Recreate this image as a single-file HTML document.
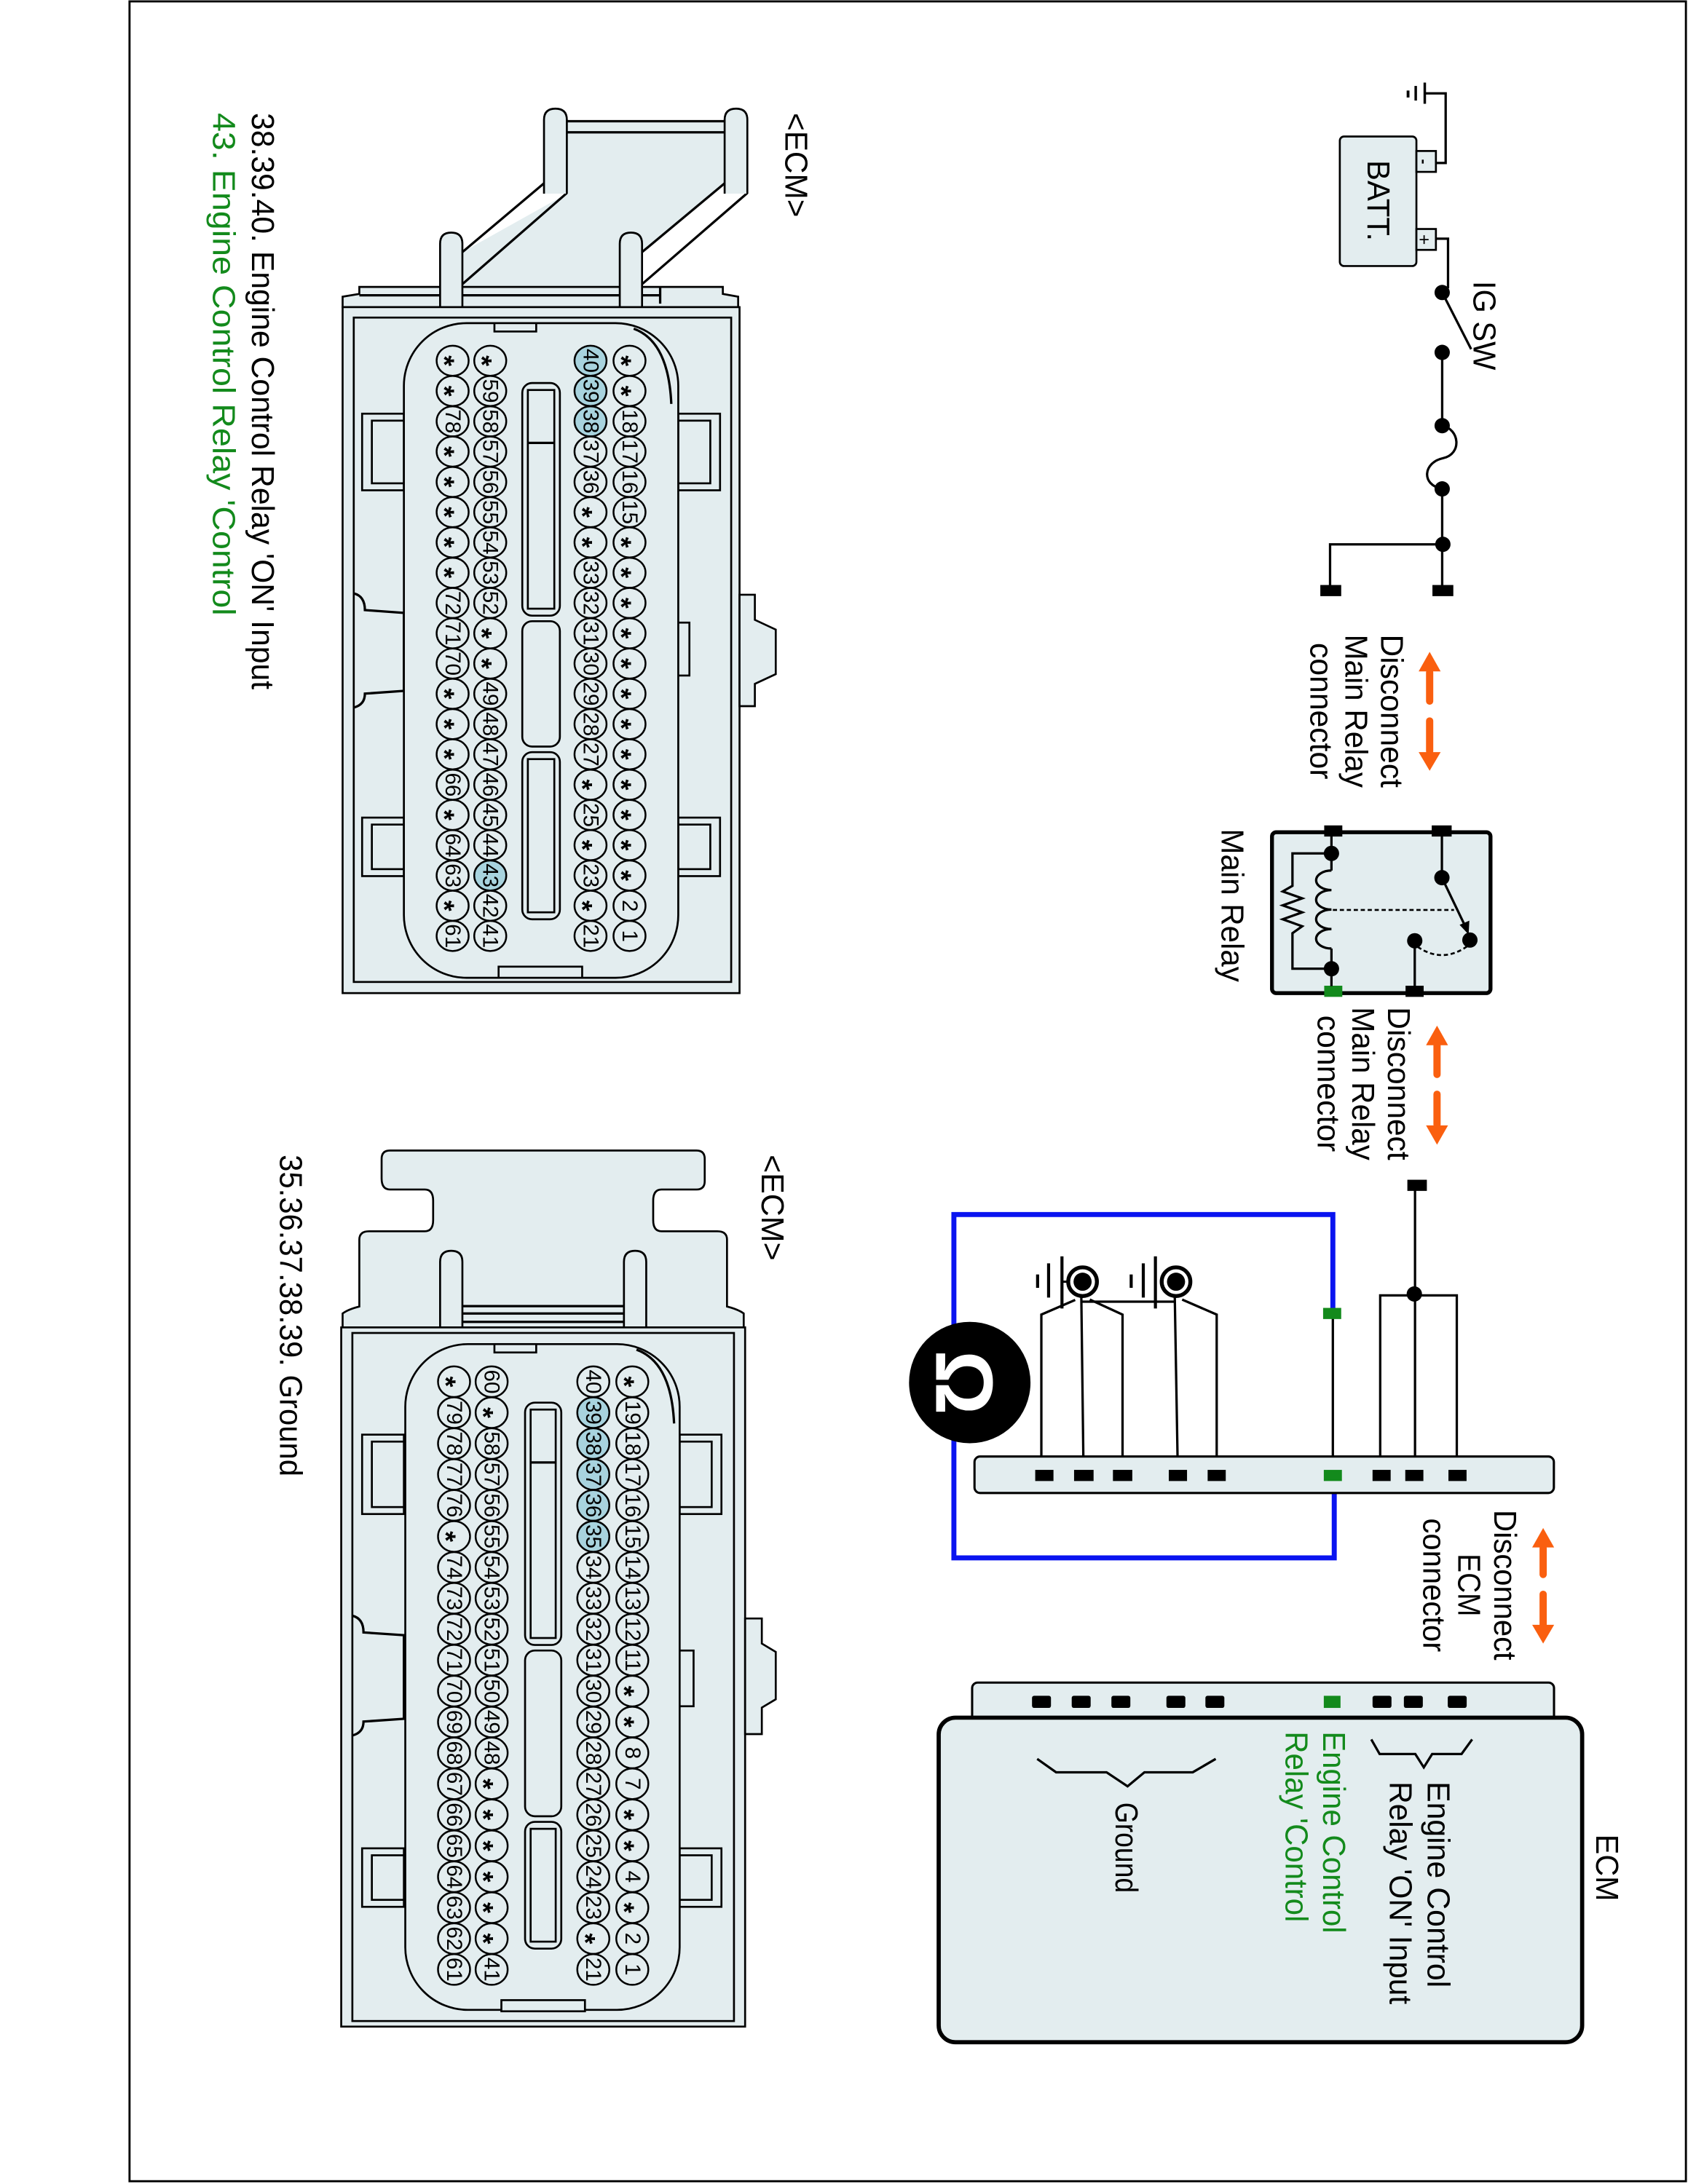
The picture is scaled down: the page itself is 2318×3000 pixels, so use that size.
<!DOCTYPE html>
<html><head><meta charset="utf-8"><style>
html,body{margin:0;padding:0;background:#fff}
svg{display:block}
text{font-family:"Liberation Sans",Arial,sans-serif}
.l{font-size:23px;fill:#000}
.g{fill:#138a1c}
.pc{fill:#e3edef;stroke:#000;stroke-width:1.3}
.ph{fill:#a8d3de;stroke:#000;stroke-width:1.3}
.pt{font-size:15.5px;text-anchor:middle;dominant-baseline:central}
.as{font-size:20px;text-anchor:middle;dominant-baseline:central;font-weight:bold}
.b{fill:#e3edef;stroke:#000;stroke-width:1.4}
.w{fill:none;stroke:#000;stroke-width:1.7}
.blk{fill:#000}
</style></head><body>
<svg width="2318" height="3000" viewBox="0 0 1212 1568" preserveAspectRatio="none" xmlns="http://www.w3.org/2000/svg">
<rect x="0" y="0" width="1212" height="1568" fill="#fff"/>
<rect x="93" y="1" width="1117.5" height="1565" fill="none" stroke="#000" stroke-width="1.5"/>

<text class="l" transform="translate(181,81) rotate(90)" textLength="414" lengthAdjust="spacingAndGlyphs">38.39.40. Engine Control Relay 'ON' Input</text>
<text class="l g" transform="translate(153,81) rotate(90)" textLength="361" lengthAdjust="spacingAndGlyphs">43. Engine Control Relay 'Control</text>
<text class="l" transform="translate(564,81) rotate(90)" textLength="75" lengthAdjust="spacingAndGlyphs">&lt;ECM&gt;</text>
<text class="l" transform="translate(547,829) rotate(90)" textLength="76" lengthAdjust="spacingAndGlyphs">&lt;ECM&gt;</text>
<text class="l" transform="translate(201,829) rotate(90)" textLength="231" lengthAdjust="spacingAndGlyphs">35.36.37.38.39. Ground</text>

<!-- connector 1 housing -->
<polygon points="407,87 520,87 520,132 461,181 461,206 332,206 332,181 407,139" fill="#e3edef"/>
<line class="w" x1="407" y1="87" x2="520" y2="87"/>
<line class="w" x1="407" y1="95" x2="520" y2="95"/>
<line class="w" x1="390.6" y1="131.6" x2="332" y2="181"/>
<line class="w" x1="407" y1="138.6" x2="332" y2="204"/>
<line class="w" x1="520.3" y1="131.6" x2="461" y2="181"/>
<line class="w" x1="536.6" y1="138.6" x2="461" y2="204"/>
<path class="b" d="M390.6,139 L390.6,86 Q390.6,78 398.8,78 Q407,78 407,86 L407,139"/>
<path class="b" d="M520.3,139 L520.3,86 Q520.3,78 528.5,78 Q536.6,78 536.6,86 L536.6,139"/>
<path class="b" d="M246,220.5 L246,213 L258,211 L258,206 L519,206 L519,211 L530,213 L530,220.5 Z"/>
<line class="w" x1="258" y1="212" x2="474" y2="212"/>
<line class="w" x1="474" y1="206" x2="474" y2="218"/>
<path class="b" d="M316,220 L316,175 Q316,167 324,167 Q332,167 332,175 L332,220"/>
<path class="b" d="M445,220 L445,175 Q445,167 453,167 Q461,167 461,175 L461,220"/>
<rect class="b" x="246" y="220.5" width="285" height="492.5"/>
<rect class="b" x="254" y="228" width="271" height="477"/>
<path class="b" d="M531,427 L542,427 L542,445 L557,452 L557,484 L542,491 L542,507 L531,507 Z"/>
<rect class="b" x="481" y="447" width="14" height="38"/>
<rect class="b" x="260" y="297" width="30" height="55"/>
<rect class="b" x="267" y="302" width="23" height="45"/>
<rect class="b" x="260" y="587" width="30" height="42"/>
<rect class="b" x="267" y="592" width="23" height="32"/>
<rect class="b" x="487" y="297" width="30" height="55"/>
<rect class="b" x="487" y="302" width="23" height="45"/>
<rect class="b" x="487" y="587" width="30" height="42"/>
<rect class="b" x="487" y="592" width="23" height="32"/>
<path class="w" d="M254,426 Q262,428 262,438 L290,440 L290,496 L262,498 Q262,506 254,508"/>
<rect class="b" x="290" y="232" width="197" height="470" rx="45" ry="45"/>
<path class="w" d="M455,236 Q480,245 482,290"/>
<rect class="b" x="358" y="694" width="60" height="8"/>
<rect class="b" x="355" y="232" width="30" height="6"/>
<rect class="b" x="375" y="275" width="27" height="167" rx="7"/>
<rect class="b" x="379" y="280" width="19" height="157"/>
<line class="w" x1="379" y1="318" x2="398" y2="318"/>
<rect class="b" x="375" y="446" width="27" height="90" rx="7"/>
<rect class="b" x="375" y="540" width="27" height="120" rx="7"/>
<rect class="b" x="379" y="545" width="19" height="110"/>

<!-- conn1 col A -->
<g>
<ellipse class="pc" cx="452" cy="259" rx="11.5" ry="10.8"/><text class="as" dy="0.3em" transform="translate(452,259) rotate(90)">*</text>
<ellipse class="pc" cx="452" cy="280.7" rx="11.5" ry="10.8"/><text class="as" dy="0.3em" transform="translate(452,280.7) rotate(90)">*</text>
<ellipse class="pc" cx="452" cy="302.5" rx="11.5" ry="10.8"/><text class="pt" transform="translate(452,302.5) rotate(90)">18</text>
<ellipse class="pc" cx="452" cy="324.2" rx="11.5" ry="10.8"/><text class="pt" transform="translate(452,324.2) rotate(90)">17</text>
<ellipse class="pc" cx="452" cy="346" rx="11.5" ry="10.8"/><text class="pt" transform="translate(452,346) rotate(90)">16</text>
<ellipse class="pc" cx="452" cy="367.7" rx="11.5" ry="10.8"/><text class="pt" transform="translate(452,367.7) rotate(90)">15</text>
<ellipse class="pc" cx="452" cy="389.4" rx="11.5" ry="10.8"/><text class="as" dy="0.3em" transform="translate(452,389.4) rotate(90)">*</text>
<ellipse class="pc" cx="452" cy="411.2" rx="11.5" ry="10.8"/><text class="as" dy="0.3em" transform="translate(452,411.2) rotate(90)">*</text>
<ellipse class="pc" cx="452" cy="432.9" rx="11.5" ry="10.8"/><text class="as" dy="0.3em" transform="translate(452,432.9) rotate(90)">*</text>
<ellipse class="pc" cx="452" cy="454.7" rx="11.5" ry="10.8"/><text class="as" dy="0.3em" transform="translate(452,454.7) rotate(90)">*</text>
<ellipse class="pc" cx="452" cy="476.4" rx="11.5" ry="10.8"/><text class="as" dy="0.3em" transform="translate(452,476.4) rotate(90)">*</text>
<ellipse class="pc" cx="452" cy="498.1" rx="11.5" ry="10.8"/><text class="as" dy="0.3em" transform="translate(452,498.1) rotate(90)">*</text>
<ellipse class="pc" cx="452" cy="519.9" rx="11.5" ry="10.8"/><text class="as" dy="0.3em" transform="translate(452,519.9) rotate(90)">*</text>
<ellipse class="pc" cx="452" cy="541.6" rx="11.5" ry="10.8"/><text class="as" dy="0.3em" transform="translate(452,541.6) rotate(90)">*</text>
<ellipse class="pc" cx="452" cy="563.4" rx="11.5" ry="10.8"/><text class="as" dy="0.3em" transform="translate(452,563.4) rotate(90)">*</text>
<ellipse class="pc" cx="452" cy="585.1" rx="11.5" ry="10.8"/><text class="as" dy="0.3em" transform="translate(452,585.1) rotate(90)">*</text>
<ellipse class="pc" cx="452" cy="606.8" rx="11.5" ry="10.8"/><text class="as" dy="0.3em" transform="translate(452,606.8) rotate(90)">*</text>
<ellipse class="pc" cx="452" cy="628.6" rx="11.5" ry="10.8"/><text class="as" dy="0.3em" transform="translate(452,628.6) rotate(90)">*</text>
<ellipse class="pc" cx="452" cy="650.3" rx="11.5" ry="10.8"/><text class="pt" transform="translate(452,650.3) rotate(90)">2</text>
<ellipse class="pc" cx="452" cy="672" rx="11.5" ry="10.8"/><text class="pt" transform="translate(452,672) rotate(90)">1</text>
</g>
<g>
<ellipse class="ph" cx="424" cy="259" rx="11.5" ry="10.8"/><text class="pt" transform="translate(424,259) rotate(90)">40</text>
<ellipse class="ph" cx="424" cy="280.7" rx="11.5" ry="10.8"/><text class="pt" transform="translate(424,280.7) rotate(90)">39</text>
<ellipse class="ph" cx="424" cy="302.5" rx="11.5" ry="10.8"/><text class="pt" transform="translate(424,302.5) rotate(90)">38</text>
<ellipse class="pc" cx="424" cy="324.2" rx="11.5" ry="10.8"/><text class="pt" transform="translate(424,324.2) rotate(90)">37</text>
<ellipse class="pc" cx="424" cy="346" rx="11.5" ry="10.8"/><text class="pt" transform="translate(424,346) rotate(90)">36</text>
<ellipse class="pc" cx="424" cy="367.7" rx="11.5" ry="10.8"/><text class="as" dy="0.3em" transform="translate(424,367.7) rotate(90)">*</text>
<ellipse class="pc" cx="424" cy="389.4" rx="11.5" ry="10.8"/><text class="as" dy="0.3em" transform="translate(424,389.4) rotate(90)">*</text>
<ellipse class="pc" cx="424" cy="411.2" rx="11.5" ry="10.8"/><text class="pt" transform="translate(424,411.2) rotate(90)">33</text>
<ellipse class="pc" cx="424" cy="432.9" rx="11.5" ry="10.8"/><text class="pt" transform="translate(424,432.9) rotate(90)">32</text>
<ellipse class="pc" cx="424" cy="454.7" rx="11.5" ry="10.8"/><text class="pt" transform="translate(424,454.7) rotate(90)">31</text>
<ellipse class="pc" cx="424" cy="476.4" rx="11.5" ry="10.8"/><text class="pt" transform="translate(424,476.4) rotate(90)">30</text>
<ellipse class="pc" cx="424" cy="498.1" rx="11.5" ry="10.8"/><text class="pt" transform="translate(424,498.1) rotate(90)">29</text>
<ellipse class="pc" cx="424" cy="519.9" rx="11.5" ry="10.8"/><text class="pt" transform="translate(424,519.9) rotate(90)">28</text>
<ellipse class="pc" cx="424" cy="541.6" rx="11.5" ry="10.8"/><text class="pt" transform="translate(424,541.6) rotate(90)">27</text>
<ellipse class="pc" cx="424" cy="563.4" rx="11.5" ry="10.8"/><text class="as" dy="0.3em" transform="translate(424,563.4) rotate(90)">*</text>
<ellipse class="pc" cx="424" cy="585.1" rx="11.5" ry="10.8"/><text class="pt" transform="translate(424,585.1) rotate(90)">25</text>
<ellipse class="pc" cx="424" cy="606.8" rx="11.5" ry="10.8"/><text class="as" dy="0.3em" transform="translate(424,606.8) rotate(90)">*</text>
<ellipse class="pc" cx="424" cy="628.6" rx="11.5" ry="10.8"/><text class="pt" transform="translate(424,628.6) rotate(90)">23</text>
<ellipse class="pc" cx="424" cy="650.3" rx="11.5" ry="10.8"/><text class="as" dy="0.3em" transform="translate(424,650.3) rotate(90)">*</text>
<ellipse class="pc" cx="424" cy="672" rx="11.5" ry="10.8"/><text class="pt" transform="translate(424,672) rotate(90)">21</text>
</g>
<g>
<ellipse class="pc" cx="352" cy="259" rx="11.5" ry="10.8"/><text class="as" dy="0.3em" transform="translate(352,259) rotate(90)">*</text>
<ellipse class="pc" cx="352" cy="280.7" rx="11.5" ry="10.8"/><text class="pt" transform="translate(352,280.7) rotate(90)">59</text>
<ellipse class="pc" cx="352" cy="302.5" rx="11.5" ry="10.8"/><text class="pt" transform="translate(352,302.5) rotate(90)">58</text>
<ellipse class="pc" cx="352" cy="324.2" rx="11.5" ry="10.8"/><text class="pt" transform="translate(352,324.2) rotate(90)">57</text>
<ellipse class="pc" cx="352" cy="346" rx="11.5" ry="10.8"/><text class="pt" transform="translate(352,346) rotate(90)">56</text>
<ellipse class="pc" cx="352" cy="367.7" rx="11.5" ry="10.8"/><text class="pt" transform="translate(352,367.7) rotate(90)">55</text>
<ellipse class="pc" cx="352" cy="389.4" rx="11.5" ry="10.8"/><text class="pt" transform="translate(352,389.4) rotate(90)">54</text>
<ellipse class="pc" cx="352" cy="411.2" rx="11.5" ry="10.8"/><text class="pt" transform="translate(352,411.2) rotate(90)">53</text>
<ellipse class="pc" cx="352" cy="432.9" rx="11.5" ry="10.8"/><text class="pt" transform="translate(352,432.9) rotate(90)">52</text>
<ellipse class="pc" cx="352" cy="454.7" rx="11.5" ry="10.8"/><text class="as" dy="0.3em" transform="translate(352,454.7) rotate(90)">*</text>
<ellipse class="pc" cx="352" cy="476.4" rx="11.5" ry="10.8"/><text class="as" dy="0.3em" transform="translate(352,476.4) rotate(90)">*</text>
<ellipse class="pc" cx="352" cy="498.1" rx="11.5" ry="10.8"/><text class="pt" transform="translate(352,498.1) rotate(90)">49</text>
<ellipse class="pc" cx="352" cy="519.9" rx="11.5" ry="10.8"/><text class="pt" transform="translate(352,519.9) rotate(90)">48</text>
<ellipse class="pc" cx="352" cy="541.6" rx="11.5" ry="10.8"/><text class="pt" transform="translate(352,541.6) rotate(90)">47</text>
<ellipse class="pc" cx="352" cy="563.4" rx="11.5" ry="10.8"/><text class="pt" transform="translate(352,563.4) rotate(90)">46</text>
<ellipse class="pc" cx="352" cy="585.1" rx="11.5" ry="10.8"/><text class="pt" transform="translate(352,585.1) rotate(90)">45</text>
<ellipse class="pc" cx="352" cy="606.8" rx="11.5" ry="10.8"/><text class="pt" transform="translate(352,606.8) rotate(90)">44</text>
<ellipse class="ph" cx="352" cy="628.6" rx="11.5" ry="10.8"/><text class="pt" transform="translate(352,628.6) rotate(90)">43</text>
<ellipse class="pc" cx="352" cy="650.3" rx="11.5" ry="10.8"/><text class="pt" transform="translate(352,650.3) rotate(90)">42</text>
<ellipse class="pc" cx="352" cy="672" rx="11.5" ry="10.8"/><text class="pt" transform="translate(352,672) rotate(90)">41</text>
</g>
<g>
<ellipse class="pc" cx="325" cy="259" rx="11.5" ry="10.8"/><text class="as" dy="0.3em" transform="translate(325,259) rotate(90)">*</text>
<ellipse class="pc" cx="325" cy="280.7" rx="11.5" ry="10.8"/><text class="as" dy="0.3em" transform="translate(325,280.7) rotate(90)">*</text>
<ellipse class="pc" cx="325" cy="302.5" rx="11.5" ry="10.8"/><text class="pt" transform="translate(325,302.5) rotate(90)">78</text>
<ellipse class="pc" cx="325" cy="324.2" rx="11.5" ry="10.8"/><text class="as" dy="0.3em" transform="translate(325,324.2) rotate(90)">*</text>
<ellipse class="pc" cx="325" cy="346" rx="11.5" ry="10.8"/><text class="as" dy="0.3em" transform="translate(325,346) rotate(90)">*</text>
<ellipse class="pc" cx="325" cy="367.7" rx="11.5" ry="10.8"/><text class="as" dy="0.3em" transform="translate(325,367.7) rotate(90)">*</text>
<ellipse class="pc" cx="325" cy="389.4" rx="11.5" ry="10.8"/><text class="as" dy="0.3em" transform="translate(325,389.4) rotate(90)">*</text>
<ellipse class="pc" cx="325" cy="411.2" rx="11.5" ry="10.8"/><text class="as" dy="0.3em" transform="translate(325,411.2) rotate(90)">*</text>
<ellipse class="pc" cx="325" cy="432.9" rx="11.5" ry="10.8"/><text class="pt" transform="translate(325,432.9) rotate(90)">72</text>
<ellipse class="pc" cx="325" cy="454.7" rx="11.5" ry="10.8"/><text class="pt" transform="translate(325,454.7) rotate(90)">71</text>
<ellipse class="pc" cx="325" cy="476.4" rx="11.5" ry="10.8"/><text class="pt" transform="translate(325,476.4) rotate(90)">70</text>
<ellipse class="pc" cx="325" cy="498.1" rx="11.5" ry="10.8"/><text class="as" dy="0.3em" transform="translate(325,498.1) rotate(90)">*</text>
<ellipse class="pc" cx="325" cy="519.9" rx="11.5" ry="10.8"/><text class="as" dy="0.3em" transform="translate(325,519.9) rotate(90)">*</text>
<ellipse class="pc" cx="325" cy="541.6" rx="11.5" ry="10.8"/><text class="as" dy="0.3em" transform="translate(325,541.6) rotate(90)">*</text>
<ellipse class="pc" cx="325" cy="563.4" rx="11.5" ry="10.8"/><text class="pt" transform="translate(325,563.4) rotate(90)">66</text>
<ellipse class="pc" cx="325" cy="585.1" rx="11.5" ry="10.8"/><text class="as" dy="0.3em" transform="translate(325,585.1) rotate(90)">*</text>
<ellipse class="pc" cx="325" cy="606.8" rx="11.5" ry="10.8"/><text class="pt" transform="translate(325,606.8) rotate(90)">64</text>
<ellipse class="pc" cx="325" cy="628.6" rx="11.5" ry="10.8"/><text class="pt" transform="translate(325,628.6) rotate(90)">63</text>
<ellipse class="pc" cx="325" cy="650.3" rx="11.5" ry="10.8"/><text class="as" dy="0.3em" transform="translate(325,650.3) rotate(90)">*</text>
<ellipse class="pc" cx="325" cy="672" rx="11.5" ry="10.8"/><text class="pt" transform="translate(325,672) rotate(90)">61</text>
</g>

<!-- connector 2 housing -->
<path class="b" d="M246,953 L246,943 Q250,940 258,938 L258,890 Q258,884 265,884 L305,884 Q311,884 311,876 L311,862 Q311,854 305,854 L280,854 Q274,854 274,846 L274,832 Q274,826 280,826 L500,826 Q506,826 506,832 L506,848 Q506,854 500,854 L475,854 Q469,854 469,862 L469,876 Q469,884 475,884 L515,884 Q522,884 522,890 L522,938 Q530,940 534,943 L534,953 Z"/>
<line class="w" x1="332" y1="937.7" x2="448" y2="937.7"/>
<line class="w" x1="332" y1="943" x2="448" y2="943"/>
<line class="w" x1="332" y1="949" x2="448" y2="949"/>
<path class="b" d="M316,953 L316,906 Q316,898 324,898 Q332,898 332,906 L332,953"/>
<path class="b" d="M448,953 L448,906 Q448,898 456,898 Q464,898 464,906 L464,953"/>
<rect class="b" x="245" y="953" width="290" height="502"/>
<rect class="b" x="253" y="957" width="274" height="494"/>
<path class="b" d="M535,1162 L547,1162 L547,1180 L557,1186 L557,1220 L547,1226 L547,1245 L535,1245 Z"/>
<rect class="b" x="484" y="1185" width="14" height="40"/>
<rect class="b" x="260" y="1030" width="30" height="57"/>
<rect class="b" x="267" y="1035" width="23" height="47"/>
<rect class="b" x="260" y="1327" width="30" height="42"/>
<rect class="b" x="267" y="1332" width="23" height="32"/>
<rect class="b" x="488" y="1030" width="30" height="57"/>
<rect class="b" x="488" y="1035" width="23" height="47"/>
<rect class="b" x="488" y="1327" width="30" height="42"/>
<rect class="b" x="488" y="1332" width="23" height="32"/>
<path class="w" d="M253,1160 Q261,1162 261,1172 L290,1174 L290,1234 L261,1236 Q261,1244 253,1246"/>
<rect class="b" x="291" y="965" width="197" height="478" rx="45" ry="45"/>
<path class="w" d="M457,969 Q482,978 484,1022"/>
<rect class="b" x="360" y="1436" width="60" height="8"/>
<rect class="b" x="355" y="965" width="30" height="6"/>
<rect class="b" x="377" y="1007" width="26" height="174" rx="7"/>
<rect class="b" x="381" y="1012" width="18" height="164"/>
<line class="w" x1="381" y1="1050" x2="399" y2="1050"/>
<rect class="b" x="377" y="1185" width="26" height="119" rx="7"/>
<rect class="b" x="377" y="1308" width="26" height="91" rx="7"/>
<rect class="b" x="381" y="1313" width="18" height="81"/>

<g>
<ellipse class="pc" cx="454" cy="992" rx="11.5" ry="11"/><text class="as" dy="0.3em" transform="translate(454,992) rotate(90)">*</text>
<ellipse class="pc" cx="454" cy="1014.2" rx="11.5" ry="11"/><text class="pt" transform="translate(454,1014.2) rotate(90)">19</text>
<ellipse class="pc" cx="454" cy="1036.4" rx="11.5" ry="11"/><text class="pt" transform="translate(454,1036.4) rotate(90)">18</text>
<ellipse class="pc" cx="454" cy="1058.6" rx="11.5" ry="11"/><text class="pt" transform="translate(454,1058.6) rotate(90)">17</text>
<ellipse class="pc" cx="454" cy="1080.8" rx="11.5" ry="11"/><text class="pt" transform="translate(454,1080.8) rotate(90)">16</text>
<ellipse class="pc" cx="454" cy="1103.1" rx="11.5" ry="11"/><text class="pt" transform="translate(454,1103.1) rotate(90)">15</text>
<ellipse class="pc" cx="454" cy="1125.3" rx="11.5" ry="11"/><text class="pt" transform="translate(454,1125.3) rotate(90)">14</text>
<ellipse class="pc" cx="454" cy="1147.5" rx="11.5" ry="11"/><text class="pt" transform="translate(454,1147.5) rotate(90)">13</text>
<ellipse class="pc" cx="454" cy="1169.7" rx="11.5" ry="11"/><text class="pt" transform="translate(454,1169.7) rotate(90)">12</text>
<ellipse class="pc" cx="454" cy="1191.9" rx="11.5" ry="11"/><text class="pt" transform="translate(454,1191.9) rotate(90)">11</text>
<ellipse class="pc" cx="454" cy="1214.1" rx="11.5" ry="11"/><text class="as" dy="0.3em" transform="translate(454,1214.1) rotate(90)">*</text>
<ellipse class="pc" cx="454" cy="1236.3" rx="11.5" ry="11"/><text class="as" dy="0.3em" transform="translate(454,1236.3) rotate(90)">*</text>
<ellipse class="pc" cx="454" cy="1258.5" rx="11.5" ry="11"/><text class="pt" transform="translate(454,1258.5) rotate(90)">8</text>
<ellipse class="pc" cx="454" cy="1280.7" rx="11.5" ry="11"/><text class="pt" transform="translate(454,1280.7) rotate(90)">7</text>
<ellipse class="pc" cx="454" cy="1302.9" rx="11.5" ry="11"/><text class="as" dy="0.3em" transform="translate(454,1302.9) rotate(90)">*</text>
<ellipse class="pc" cx="454" cy="1325.2" rx="11.5" ry="11"/><text class="as" dy="0.3em" transform="translate(454,1325.2) rotate(90)">*</text>
<ellipse class="pc" cx="454" cy="1347.4" rx="11.5" ry="11"/><text class="pt" transform="translate(454,1347.4) rotate(90)">4</text>
<ellipse class="pc" cx="454" cy="1369.6" rx="11.5" ry="11"/><text class="as" dy="0.3em" transform="translate(454,1369.6) rotate(90)">*</text>
<ellipse class="pc" cx="454" cy="1391.8" rx="11.5" ry="11"/><text class="pt" transform="translate(454,1391.8) rotate(90)">2</text>
<ellipse class="pc" cx="454" cy="1414" rx="11.5" ry="11"/><text class="pt" transform="translate(454,1414) rotate(90)">1</text>
</g>
<g>
<ellipse class="pc" cx="426" cy="992" rx="11.5" ry="11"/><text class="pt" transform="translate(426,992) rotate(90)">40</text>
<ellipse class="ph" cx="426" cy="1014.2" rx="11.5" ry="11"/><text class="pt" transform="translate(426,1014.2) rotate(90)">39</text>
<ellipse class="ph" cx="426" cy="1036.4" rx="11.5" ry="11"/><text class="pt" transform="translate(426,1036.4) rotate(90)">38</text>
<ellipse class="ph" cx="426" cy="1058.6" rx="11.5" ry="11"/><text class="pt" transform="translate(426,1058.6) rotate(90)">37</text>
<ellipse class="ph" cx="426" cy="1080.8" rx="11.5" ry="11"/><text class="pt" transform="translate(426,1080.8) rotate(90)">36</text>
<ellipse class="ph" cx="426" cy="1103.1" rx="11.5" ry="11"/><text class="pt" transform="translate(426,1103.1) rotate(90)">35</text>
<ellipse class="pc" cx="426" cy="1125.3" rx="11.5" ry="11"/><text class="pt" transform="translate(426,1125.3) rotate(90)">34</text>
<ellipse class="pc" cx="426" cy="1147.5" rx="11.5" ry="11"/><text class="pt" transform="translate(426,1147.5) rotate(90)">33</text>
<ellipse class="pc" cx="426" cy="1169.7" rx="11.5" ry="11"/><text class="pt" transform="translate(426,1169.7) rotate(90)">32</text>
<ellipse class="pc" cx="426" cy="1191.9" rx="11.5" ry="11"/><text class="pt" transform="translate(426,1191.9) rotate(90)">31</text>
<ellipse class="pc" cx="426" cy="1214.1" rx="11.5" ry="11"/><text class="pt" transform="translate(426,1214.1) rotate(90)">30</text>
<ellipse class="pc" cx="426" cy="1236.3" rx="11.5" ry="11"/><text class="pt" transform="translate(426,1236.3) rotate(90)">29</text>
<ellipse class="pc" cx="426" cy="1258.5" rx="11.5" ry="11"/><text class="pt" transform="translate(426,1258.5) rotate(90)">28</text>
<ellipse class="pc" cx="426" cy="1280.7" rx="11.5" ry="11"/><text class="pt" transform="translate(426,1280.7) rotate(90)">27</text>
<ellipse class="pc" cx="426" cy="1302.9" rx="11.5" ry="11"/><text class="pt" transform="translate(426,1302.9) rotate(90)">26</text>
<ellipse class="pc" cx="426" cy="1325.2" rx="11.5" ry="11"/><text class="pt" transform="translate(426,1325.2) rotate(90)">25</text>
<ellipse class="pc" cx="426" cy="1347.4" rx="11.5" ry="11"/><text class="pt" transform="translate(426,1347.4) rotate(90)">24</text>
<ellipse class="pc" cx="426" cy="1369.6" rx="11.5" ry="11"/><text class="pt" transform="translate(426,1369.6) rotate(90)">23</text>
<ellipse class="pc" cx="426" cy="1391.8" rx="11.5" ry="11"/><text class="as" dy="0.3em" transform="translate(426,1391.8) rotate(90)">*</text>
<ellipse class="pc" cx="426" cy="1414" rx="11.5" ry="11"/><text class="pt" transform="translate(426,1414) rotate(90)">21</text>
</g>
<g>
<ellipse class="pc" cx="353" cy="992" rx="11.5" ry="11"/><text class="pt" transform="translate(353,992) rotate(90)">60</text>
<ellipse class="pc" cx="353" cy="1014.2" rx="11.5" ry="11"/><text class="as" dy="0.3em" transform="translate(353,1014.2) rotate(90)">*</text>
<ellipse class="pc" cx="353" cy="1036.4" rx="11.5" ry="11"/><text class="pt" transform="translate(353,1036.4) rotate(90)">58</text>
<ellipse class="pc" cx="353" cy="1058.6" rx="11.5" ry="11"/><text class="pt" transform="translate(353,1058.6) rotate(90)">57</text>
<ellipse class="pc" cx="353" cy="1080.8" rx="11.5" ry="11"/><text class="pt" transform="translate(353,1080.8) rotate(90)">56</text>
<ellipse class="pc" cx="353" cy="1103.1" rx="11.5" ry="11"/><text class="pt" transform="translate(353,1103.1) rotate(90)">55</text>
<ellipse class="pc" cx="353" cy="1125.3" rx="11.5" ry="11"/><text class="pt" transform="translate(353,1125.3) rotate(90)">54</text>
<ellipse class="pc" cx="353" cy="1147.5" rx="11.5" ry="11"/><text class="pt" transform="translate(353,1147.5) rotate(90)">53</text>
<ellipse class="pc" cx="353" cy="1169.7" rx="11.5" ry="11"/><text class="pt" transform="translate(353,1169.7) rotate(90)">52</text>
<ellipse class="pc" cx="353" cy="1191.9" rx="11.5" ry="11"/><text class="pt" transform="translate(353,1191.9) rotate(90)">51</text>
<ellipse class="pc" cx="353" cy="1214.1" rx="11.5" ry="11"/><text class="pt" transform="translate(353,1214.1) rotate(90)">50</text>
<ellipse class="pc" cx="353" cy="1236.3" rx="11.5" ry="11"/><text class="pt" transform="translate(353,1236.3) rotate(90)">49</text>
<ellipse class="pc" cx="353" cy="1258.5" rx="11.5" ry="11"/><text class="pt" transform="translate(353,1258.5) rotate(90)">48</text>
<ellipse class="pc" cx="353" cy="1280.7" rx="11.5" ry="11"/><text class="as" dy="0.3em" transform="translate(353,1280.7) rotate(90)">*</text>
<ellipse class="pc" cx="353" cy="1302.9" rx="11.5" ry="11"/><text class="as" dy="0.3em" transform="translate(353,1302.9) rotate(90)">*</text>
<ellipse class="pc" cx="353" cy="1325.2" rx="11.5" ry="11"/><text class="as" dy="0.3em" transform="translate(353,1325.2) rotate(90)">*</text>
<ellipse class="pc" cx="353" cy="1347.4" rx="11.5" ry="11"/><text class="as" dy="0.3em" transform="translate(353,1347.4) rotate(90)">*</text>
<ellipse class="pc" cx="353" cy="1369.6" rx="11.5" ry="11"/><text class="as" dy="0.3em" transform="translate(353,1369.6) rotate(90)">*</text>
<ellipse class="pc" cx="353" cy="1391.8" rx="11.5" ry="11"/><text class="as" dy="0.3em" transform="translate(353,1391.8) rotate(90)">*</text>
<ellipse class="pc" cx="353" cy="1414" rx="11.5" ry="11"/><text class="pt" transform="translate(353,1414) rotate(90)">41</text>
</g>
<g>
<ellipse class="pc" cx="326" cy="992" rx="11.5" ry="11"/><text class="as" dy="0.3em" transform="translate(326,992) rotate(90)">*</text>
<ellipse class="pc" cx="326" cy="1014.2" rx="11.5" ry="11"/><text class="pt" transform="translate(326,1014.2) rotate(90)">79</text>
<ellipse class="pc" cx="326" cy="1036.4" rx="11.5" ry="11"/><text class="pt" transform="translate(326,1036.4) rotate(90)">78</text>
<ellipse class="pc" cx="326" cy="1058.6" rx="11.5" ry="11"/><text class="pt" transform="translate(326,1058.6) rotate(90)">77</text>
<ellipse class="pc" cx="326" cy="1080.8" rx="11.5" ry="11"/><text class="pt" transform="translate(326,1080.8) rotate(90)">76</text>
<ellipse class="pc" cx="326" cy="1103.1" rx="11.5" ry="11"/><text class="as" dy="0.3em" transform="translate(326,1103.1) rotate(90)">*</text>
<ellipse class="pc" cx="326" cy="1125.3" rx="11.5" ry="11"/><text class="pt" transform="translate(326,1125.3) rotate(90)">74</text>
<ellipse class="pc" cx="326" cy="1147.5" rx="11.5" ry="11"/><text class="pt" transform="translate(326,1147.5) rotate(90)">73</text>
<ellipse class="pc" cx="326" cy="1169.7" rx="11.5" ry="11"/><text class="pt" transform="translate(326,1169.7) rotate(90)">72</text>
<ellipse class="pc" cx="326" cy="1191.9" rx="11.5" ry="11"/><text class="pt" transform="translate(326,1191.9) rotate(90)">71</text>
<ellipse class="pc" cx="326" cy="1214.1" rx="11.5" ry="11"/><text class="pt" transform="translate(326,1214.1) rotate(90)">70</text>
<ellipse class="pc" cx="326" cy="1236.3" rx="11.5" ry="11"/><text class="pt" transform="translate(326,1236.3) rotate(90)">69</text>
<ellipse class="pc" cx="326" cy="1258.5" rx="11.5" ry="11"/><text class="pt" transform="translate(326,1258.5) rotate(90)">68</text>
<ellipse class="pc" cx="326" cy="1280.7" rx="11.5" ry="11"/><text class="pt" transform="translate(326,1280.7) rotate(90)">67</text>
<ellipse class="pc" cx="326" cy="1302.9" rx="11.5" ry="11"/><text class="pt" transform="translate(326,1302.9) rotate(90)">66</text>
<ellipse class="pc" cx="326" cy="1325.2" rx="11.5" ry="11"/><text class="pt" transform="translate(326,1325.2) rotate(90)">65</text>
<ellipse class="pc" cx="326" cy="1347.4" rx="11.5" ry="11"/><text class="pt" transform="translate(326,1347.4) rotate(90)">64</text>
<ellipse class="pc" cx="326" cy="1369.6" rx="11.5" ry="11"/><text class="pt" transform="translate(326,1369.6) rotate(90)">63</text>
<ellipse class="pc" cx="326" cy="1391.8" rx="11.5" ry="11"/><text class="pt" transform="translate(326,1391.8) rotate(90)">62</text>
<ellipse class="pc" cx="326" cy="1414" rx="11.5" ry="11"/><text class="pt" transform="translate(326,1414) rotate(90)">61</text>
</g>

<!-- right schematic -->
<line x1="1023" y1="59.3" x2="1023" y2="74.5" stroke="#000" stroke-width="1.8"/>
<line x1="1016.5" y1="61.7" x2="1016.5" y2="72.2" stroke="#000" stroke-width="1.8"/>
<line x1="1011" y1="65" x2="1011" y2="70" stroke="#000" stroke-width="2"/>
<polyline class="w" points="1023,67 1038,67 1038,117 1031,117"/>
<rect class="b" x="962" y="98" width="55" height="93" rx="3"/>
<rect class="b" x="1017" y="108.4" width="14" height="15"/>
<rect class="b" x="1017" y="164.4" width="14" height="15"/>
<text transform="translate(1022,116) rotate(90)" font-size="11" font-weight="bold" text-anchor="middle" dominant-baseline="central">-</text>
<text transform="translate(1022.5,172) rotate(90)" font-size="13" text-anchor="middle" dominant-baseline="central">+</text>
<text class="l" transform="translate(982,115) rotate(90)" textLength="58" lengthAdjust="spacingAndGlyphs">BATT.</text>
<polyline class="w" points="1031,171.4 1039.7,171.4 1039.7,207"/>
<circle class="blk" cx="1035.5" cy="210" r="5.5"/>
<line class="w" x1="1035.5" y1="210" x2="1056.3" y2="250.7"/>
<text class="l" transform="translate(1058,201.7) rotate(90)" textLength="64" lengthAdjust="spacingAndGlyphs">IG SW</text>
<circle class="blk" cx="1035.5" cy="253" r="5.5"/>
<line class="w" x1="1035.5" y1="253" x2="1035.5" y2="305.6"/>
<circle class="blk" cx="1035.5" cy="305.6" r="5.5"/>
<path class="w" d="M1035.5,305.6 C1048,308 1050,326 1036,329 C1022,332 1020,348 1035.5,351"/>
<circle class="blk" cx="1035.5" cy="351" r="5.5"/>
<line class="w" x1="1035.5" y1="351" x2="1035.5" y2="424"/>
<circle class="blk" cx="1036" cy="390.8" r="5.5"/>
<polyline class="w" points="1036,390.8 955,390.8 955,424"/>
<rect class="blk" x="948" y="420" width="15" height="8"/>
<rect class="blk" x="1028.5" y="420" width="15" height="8"/>

<g fill="#fa5f0f">
<polygon points="1026.5,468 1034.4,482 1018.6,482"/>
<rect x="1023.9" y="480" width="5.2" height="26" rx="2.6"/>
<rect x="1023.9" y="515" width="5.2" height="27" rx="2.6"/>
<polygon points="1026.5,553.4 1034.4,540 1018.6,540"/>
<polygon points="1031.8,736.4 1039.7,750.4 1023.9,750.4"/>
<rect x="1029.2" y="748" width="5.2" height="26" rx="2.6"/>
<rect x="1029.2" y="783" width="5.2" height="27" rx="2.6"/>
<polygon points="1031.8,821.8 1039.7,808 1023.9,808"/>
<polygon points="1108,1097 1115.9,1111 1100.1,1111"/>
<rect x="1105.4" y="1109" width="5.2" height="24" rx="2.6"/>
<rect x="1105.4" y="1142" width="5.2" height="27" rx="2.6"/>
<polygon points="1108,1180 1115.9,1166.5 1100.1,1166.5"/>
</g>
<text class="l" transform="translate(991.5,510.5) rotate(90)" text-anchor="middle" textLength="110" lengthAdjust="spacingAndGlyphs">Disconnect</text>
<text class="l" transform="translate(966,510.5) rotate(90)" text-anchor="middle" textLength="110" lengthAdjust="spacingAndGlyphs">Main Relay</text>
<text class="l" transform="translate(941,510.5) rotate(90)" text-anchor="middle" textLength="98" lengthAdjust="spacingAndGlyphs">connector</text>
<text class="l" transform="translate(996.5,778) rotate(90)" text-anchor="middle" textLength="110" lengthAdjust="spacingAndGlyphs">Disconnect</text>
<text class="l" transform="translate(971,778) rotate(90)" text-anchor="middle" textLength="110" lengthAdjust="spacingAndGlyphs">Main Relay</text>
<text class="l" transform="translate(946,778) rotate(90)" text-anchor="middle" textLength="98" lengthAdjust="spacingAndGlyphs">connector</text>
<text class="l" transform="translate(1073,1138) rotate(90)" text-anchor="middle" textLength="108" lengthAdjust="spacingAndGlyphs">Disconnect</text>
<text class="l" transform="translate(1047,1138) rotate(90)" text-anchor="middle" textLength="45" lengthAdjust="spacingAndGlyphs">ECM</text>
<text class="l" transform="translate(1022,1138) rotate(90)" text-anchor="middle" textLength="96" lengthAdjust="spacingAndGlyphs">connector</text>

<rect x="913.3" y="597.5" width="156.9" height="115.5" rx="3" fill="#e3edef" stroke="#000" stroke-width="2.8"/>
<rect class="blk" x="950.8" y="592.6" width="13" height="8"/>
<rect class="blk" x="1028" y="592.6" width="14.3" height="8"/>
<rect x="950.8" y="707.7" width="13" height="8" fill="#138a1c"/>
<rect class="blk" x="1009.2" y="707.7" width="13" height="8"/>
<line class="w" x1="956" y1="600" x2="956" y2="625"/>
<path class="w" d="M956,625 a5.5,3.5 0 1 0 0,14 a5.5,3.5 0 1 0 0,14 a5.5,3.5 0 1 0 0,14 a5.5,3.5 0 1 0 0,14"/>
<line class="w" x1="956" y1="681" x2="956" y2="708"/>
<polyline class="w" points="956,612.7 928,612.7 928,636 921,640 935,645 921,650 935,655 921,660 935,665 928,670 928,695.5 956,695.5"/>
<circle class="blk" cx="956" cy="612.7" r="5.5"/>
<circle class="blk" cx="956" cy="695.5" r="5.5"/>
<line x1="957" y1="653.3" x2="1044" y2="653.3" stroke="#000" stroke-width="1.4" stroke-dasharray="3,2"/>
<line class="w" x1="1035.3" y1="600" x2="1035.3" y2="630"/>
<circle class="blk" cx="1035.3" cy="630.1" r="5.5"/>
<line class="w" x1="1035.3" y1="630.1" x2="1053" y2="667"/>
<polygon points="1054.5,671 1048,664 1055,661" fill="#000"/>
<circle class="blk" cx="1055.4" cy="674.9" r="5.5"/>
<circle class="blk" cx="1015.8" cy="675.4" r="5.5"/>
<path d="M1017.9,679.8 Q1036,692 1054,679" fill="none" stroke="#000" stroke-width="1.4" stroke-dasharray="3,2"/>
<line class="w" x1="1015.8" y1="675.4" x2="1015.8" y2="708"/>
<text class="l" transform="translate(877,595) rotate(90)" textLength="110" lengthAdjust="spacingAndGlyphs">Main Relay</text>

<rect class="blk" x="1010.5" y="847" width="14" height="8"/>
<line class="w" x1="1016" y1="851" x2="1016" y2="1058"/>
<polyline class="w" points="991,1058 991,930 1046,930 1046,1058"/>
<circle class="blk" cx="1015.5" cy="929" r="5.5"/>

<polyline points="957,943 957,872 684.9,872 684.9,1118.5 958,1118.5 958,1070" fill="none" stroke="#0a14f0" stroke-width="3.6"/>
<line class="w" x1="957" y1="943" x2="957" y2="1058"/>
<rect x="950" y="939" width="13" height="8" fill="#138a1c"/>

<circle cx="696.3" cy="992.6" r="43.6" fill="#000"/>
<text transform="translate(692,992.6) rotate(90)" font-size="58" font-weight="bold" fill="#fff" text-anchor="middle" dominant-baseline="central">Ω</text>

<g>
<line x1="762.5" y1="902" x2="762.5" y2="939.4" stroke="#000" stroke-width="2.2"/>
<line x1="752.9" y1="907" x2="752.9" y2="931.6" stroke="#000" stroke-width="2.2"/>
<line x1="745" y1="915" x2="745" y2="924.6" stroke="#000" stroke-width="2.2"/>
<line x1="762.5" y1="920.2" x2="766" y2="920.2" stroke="#000" stroke-width="1.6"/>
<circle cx="777.3" cy="920.2" r="10.3" fill="#fff" stroke="#000" stroke-width="2.8"/>
<circle cx="777.3" cy="920.2" r="6.5" fill="#000"/>
<line x1="829.6" y1="902" x2="829.6" y2="939.4" stroke="#000" stroke-width="2.2"/>
<line x1="820.9" y1="907" x2="820.9" y2="931.6" stroke="#000" stroke-width="2.2"/>
<line x1="812.2" y1="915" x2="812.2" y2="924.6" stroke="#000" stroke-width="2.2"/>
<circle cx="844.4" cy="920.2" r="10.3" fill="#fff" stroke="#000" stroke-width="2.8"/>
<circle cx="844.4" cy="920.2" r="6.5" fill="#000"/>
<line class="w" x1="777" y1="934.5" x2="843.5" y2="934.5"/>
<polyline class="w" points="772,933.3 747.7,943.8 747.7,1058"/>
<line class="w" x1="776.4" y1="931" x2="778" y2="1058"/>
<polyline class="w" points="782.5,933 806,943.8 806,1058"/>
<line class="w" x1="843.5" y1="931" x2="845.7" y2="1058"/>
<polyline class="w" points="848.8,933 873.6,943.8 873.6,1058"/>
</g>

<rect x="699.7" y="1045.7" width="416" height="26.2" rx="4" fill="#e3edef" stroke="#000" stroke-width="1.6"/>
<g fill="#000">
<rect x="743.3" y="1055.3" width="13.1" height="8"/>
<rect x="771.2" y="1055.3" width="14" height="8"/>
<rect x="799.1" y="1055.3" width="13.9" height="8"/>
<rect x="839.2" y="1055.3" width="13.1" height="8"/>
<rect x="867.1" y="1055.3" width="13" height="8"/>
<rect x="985.5" y="1055.3" width="13" height="8"/>
<rect x="1009" y="1055.3" width="13" height="8"/>
<rect x="1040" y="1055.3" width="13" height="8"/>
</g>
<rect x="950.5" y="1055.3" width="13" height="8" fill="#138a1c"/>

<rect x="698" y="1208" width="417.8" height="30" rx="4" fill="#e3edef" stroke="#000" stroke-width="1.6"/>
<rect x="674" y="1233.2" width="462" height="233" rx="12" fill="#e3edef" stroke="#000" stroke-width="3"/>
<g fill="#000">
<rect x="741" y="1217.5" width="13.6" height="8.7" rx="1.5"/>
<rect x="769.5" y="1217.5" width="13.6" height="8.7" rx="1.5"/>
<rect x="798" y="1217.5" width="13.6" height="8.7" rx="1.5"/>
<rect x="837.5" y="1217.5" width="13.6" height="8.7" rx="1.5"/>
<rect x="865.5" y="1217.5" width="13.6" height="8.7" rx="1.5"/>
<rect x="985.5" y="1217.5" width="13.6" height="8.7" rx="1.5"/>
<rect x="1008" y="1217.5" width="13.6" height="8.7" rx="1.5"/>
<rect x="1039.5" y="1217.5" width="13.6" height="8.7" rx="1.5"/>
</g>
<rect x="950.5" y="1217.5" width="12" height="8.7" fill="#138a1c"/>
<polyline class="w" points="984.6,1248.8 990.6,1259.3 1016.2,1259.3 1022.3,1268.9 1028.3,1259.3 1049.4,1259.3 1057,1248.8"/>
<polyline class="w" points="744.7,1262.8 758.3,1272.4 794.5,1272.4 809.6,1282.5 821.7,1272.4 856.4,1272.4 872.9,1262.8"/>
<text class="l" transform="translate(1025,1279) rotate(90)" textLength="148" lengthAdjust="spacingAndGlyphs">Engine Control</text>
<text class="l" transform="translate(998,1279) rotate(90)" textLength="160" lengthAdjust="spacingAndGlyphs">Relay 'ON' Input</text>
<text class="l g" transform="translate(950,1243) rotate(90)" textLength="145" lengthAdjust="spacingAndGlyphs">Engine Control</text>
<text class="l g" transform="translate(923,1243) rotate(90)" textLength="137" lengthAdjust="spacingAndGlyphs">Relay 'Control</text>
<text class="l" transform="translate(801,1294) rotate(90)" textLength="65" lengthAdjust="spacingAndGlyphs">Ground</text>
<text class="l" transform="translate(1146,1317) rotate(90)" textLength="48" lengthAdjust="spacingAndGlyphs">ECM</text>
</svg>
</body></html>
